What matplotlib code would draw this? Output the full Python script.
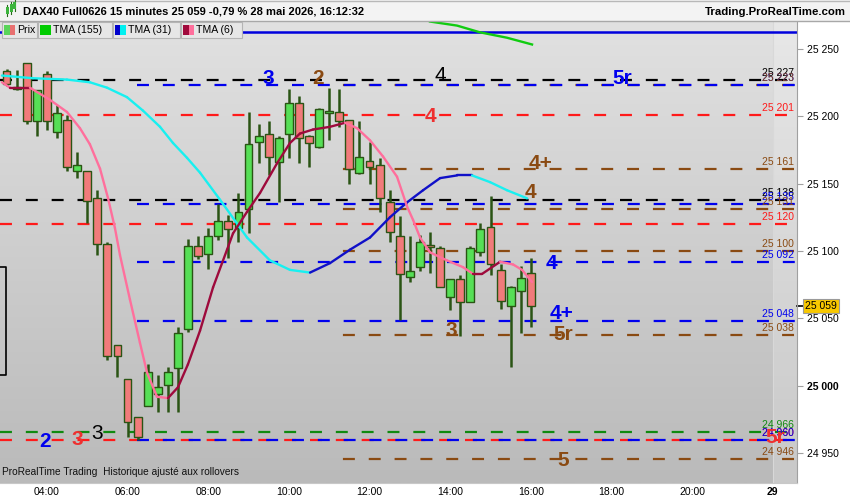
import numpy as np
import matplotlib.pyplot as plt
import matplotlib.transforms as mtransforms
from matplotlib.collections import LineCollection
from matplotlib.patches import Rectangle
from matplotlib.lines import Line2D

plt.rcParams['font.family'] = ['Liberation Sans', 'DejaVu Sans']
plt.rcParams['lines.scale_dashes'] = False

# 15 minute candles, bar 0 = 03:00, bar 52 = 16:00
opens = [25233, 25221, 25239, 25196, 25231, 25188, 25197, 25159, 25159, 25139,
         25105, 25030, 25005, 24977, 24985, 24994, 25001, 25013, 25042, 25104,
         25098, 25111, 25122, 25117, 25131, 25181, 25187, 25166, 25187, 25210,
         25185, 25177, 25202, 25203, 25197, 25158, 25167, 25164, 25136, 25111,
         25081, 25088, 25104, 25102, 25066, 25079, 25062, 25099, 25118, 25086,
         25059, 25070, 25084]
highs = [25235, 25234, 25239, 25219, 25233, 25208, 25201, 25173, 25159, 25145,
         25107, 25030, 25005, 24977, 25016, 25008, 25014, 25044, 25109, 25111,
         25117, 25135, 25127, 25143, 25203, 25194, 25196, 25185, 25220, 25215,
         25186, 25206, 25221, 25220, 25197, 25196, 25181, 25169, 25145, 25126,
         25111, 25112, 25114, 25104, 25079, 25082, 25104, 25121, 25141, 25090,
         25074, 25089, 25095]
lows = [25222, 25219, 25194, 25185, 25190, 25184, 25159, 25154, 25121, 25097,
        25019, 25007, 24962, 24960, 24985, 24981, 24981, 24981, 25040, 25094,
        25087, 25108, 25095, 25107, 25113, 25165, 25156, 25136, 25169, 25165,
        25162, 25176, 25182, 25192, 25150, 25157, 25150, 25129, 25107, 25049,
        25077, 25085, 25084, 25073, 25056, 25037, 25062, 25096, 25082, 25057,
        25014, 25039, 25044]
closes = [25224, 25220, 25196, 25219, 25196, 25202, 25162, 25164, 25137, 25105,
          25022, 25022, 24973, 24962, 25010, 24999, 25010, 25039, 25104, 25096,
          25111, 25122, 25116, 25129, 25179, 25185, 25170, 25184, 25210, 25184,
          25180, 25205, 25204, 25196, 25161, 25170, 25162, 25139, 25114, 25083,
          25085, 25107, 25103, 25073, 25079, 25062, 25102, 25116, 25090, 25063,
          25073, 25080, 25059]

# TMA curves (bar, price)
tma6_x = [-0.46, 0.34, 2.32, 4.3, 5.99, 7.28, 8.27, 9.27, 10.07, 10.75, 11.25,
          12.24, 13.23, 13.93, 14.92, 16.01, 17.0, 17.99, 19.19, 20.48, 21.87,
          22.46, 23.85, 25.14, 26.83, 28.11, 29.1, 30.4, 32.08, 33.57, 34.76,
          36.05, 37.34, 38.73, 39.72, 40.32, 41.01, 42.0, 43.69, 45.28, 46.27,
          47.16, 48.95, 50.24, 51.13, 52.12]
tma6_y = [25225, 25221, 25221, 25212, 25203, 25191, 25179, 25161, 25139, 25117,
          25097, 25064, 25032, 25010, 24992, 24991, 24999, 25016, 25041, 25073,
          25101, 25113, 25129, 25143, 25165, 25180, 25187, 25190, 25192, 25195,
          25191, 25182, 25170, 25155, 25133, 25123, 25110, 25099, 25093, 25088,
          25083, 25083, 25092, 25090, 25086, 25077]
tma31_x = [-0.46, 2.62, 5.99, 8.27, 9.96, 11.94, 13.53, 15.22, 16.51, 17.9,
           19.19, 21.17, 23.85, 26.13, 28.11, 30.1, 32.08, 34.07, 36.05, 38.03,
           39.72, 41.31, 43.0, 44.69, 46.17, 47.96, 49.64, 51.63]
tma31_y = [25230, 25228, 25227, 25225, 25221, 25214, 25204, 25192, 25180, 25169,
           25158, 25138, 25110, 25093, 25086, 25084, 25091, 25101, 25110, 25125,
           25136, 25145, 25154, 25156, 25156, 25151, 25145, 25139]
tma155_x = [42.0, 44.68, 46.96, 49.64, 52.12]
tma155_y = [25270, 25267, 25262, 25258, 25253]

# horizontal levels
black_levels = [25227, 25138]
red_levels = [25201, 25120, 24960]
green_levels = [24966]
blue_levels = [25223, 25135, 25092, 25048, 24960]
brown_levels = [25223, 25161, 25131, 25100, 25038, 24946]
blue_from = 12.9
brown_from = 32.1
top_line = 25262

# wave labels (text, bar, price)
black_marks = [('3', 8.97, 24965), ('4', 43.0, 25230)]
blue_marks = [('2', 3.81, 24959), ('3', 25.93, 25228), ('5r', 61.05, 25228),
              ('4', 54.0, 25091), ('4+', 55.0, 25054)]
red_marks = [('3', 6.98, 24960), ('4', 42.0, 25200), ('5r', 76.2, 24962)]
brown_marks = [('2', 30.9, 25228), ('4+', 53.0, 25165), ('4', 52.0, 25143),
               ('3', 44.1, 25041), ('5r', 55.2, 25038), ('5', 55.2, 24945)]

tick_bars = [4, 12, 20, 28, 36, 44, 52, 60, 68, 76]
tick_labels = ['04:00', '06:00', '08:00', '10:00', '12:00', '14:00', '16:00',
               '18:00', '20:00', '29']
price_ticks = [24950, 25000, 25050, 25100, 25150, 25200, 25250]

BROWN = '#8a4a12'
BLUE = '#0000ee'
RED = '#ff1a1a'
GREEN = '#108a10'
W, H = 850, 500


def fx(x):
    return x / W


def fy(y):
    return 1 - y / H


def fmt(v):
    return f"{v:,}".replace(',', ' ')


fig = plt.figure(figsize=(8.5, 5), dpi=100)
fig.patch.set_facecolor('white')
ax = fig.add_axes([0, 17 / H, 797 / W, 462 / H])
ax.set_xlim(-0.65, 78.4)
ax.set_ylim(24928.1, 25270.4)

# background gradient
grad = np.linspace(0, 1, 256)[:, None]
top_c = np.array([225, 225, 225]) / 255
bot_c = np.array([186, 186, 186]) / 255
img = top_c[None, None, :] * (1 - grad[:, :, None]) + bot_c[None, None, :] * grad[:, :, None]
ax.imshow(img, extent=[0, 1, 0, 1], transform=ax.transAxes, aspect='auto', zorder=0)
ax.axvspan(76, 78.4, color='white', alpha=0.22, lw=0, zorder=0.5)
ax.axvline(76, color='#d8d8d8', lw=0.8, zorder=0.5)

# levels
x0, x1 = -0.65, 78.4
dash = (0, (8.6, 10.0))
dash_half = (9.3, (8.6, 10.0))
for p in black_levels:
    ax.plot([x0, x1], [p, p], color='black', lw=1.6, ls=dash, zorder=2)
for p in red_levels:
    ax.plot([x0, x1], [p, p], color=RED, lw=1.6, ls=dash, zorder=2)
for p in green_levels:
    ax.plot([x0, x1], [p, p], color=GREEN, lw=1.6, ls=dash, zorder=2)
for p in blue_levels:
    ax.plot([blue_from, x1], [p, p], color=BLUE, lw=1.6, ls=dash, zorder=2.1)
for p in brown_levels:
    ax.plot([brown_from, x1], [p, p], color=BROWN, lw=1.6, ls=dash_half, zorder=2)
ax.axhline(top_line, color='#0000dd', lw=1.8, zorder=2)

# level price labels on the right
bt = mtransforms.blended_transform_factory(ax.transAxes, ax.transData)
for levels, c in [(black_levels, 'black'), (red_levels, RED), (green_levels, GREEN),
                  (blue_levels, BLUE), (brown_levels, BROWN)]:
    for p in levels:
        ax.text(0.996, p + 1.5, fmt(p), color=c, fontsize=7.5, ha='right',
                va='bottom', transform=bt, zorder=6)

# candles
idx = np.arange(len(closes))
o = np.array(opens)
c = np.array(closes)
up = c >= o
ax.vlines(idx, lows, highs, color='#2a5414', lw=1.8, zorder=3)
body_lo = np.minimum(o, c)
body_h = np.maximum(np.abs(c - o), 1.2)
ax.bar(idx[up], body_h[up], bottom=body_lo[up], width=0.78, color='#56df56',
       edgecolor='#2a5414', lw=1.0, zorder=4)
ax.bar(idx[~up], body_h[~up], bottom=body_lo[~up], width=0.78, color='#f17b7b',
       edgecolor='#2a5414', lw=1.0, zorder=4)


def slope_line(xs, ys, rise_c, fall_c, lw):
    pts = np.column_stack([xs, ys])
    segs = np.stack([pts[:-1], pts[1:]], axis=1)
    cols = [rise_c if ys[i + 1] >= ys[i] else fall_c for i in range(len(ys) - 1)]
    ax.add_collection(LineCollection(segs, colors=cols, lw=lw, zorder=5,
                                     capstyle='round', joinstyle='round'))


slope_line(tma31_x, tma31_y, '#1010c8', '#18f0f0', 1.7)
slope_line(tma6_x, tma6_y, '#9e0a3c', '#ff6f9c', 1.7)
ax.plot(tma155_x, tma155_y, color='#10cc10', lw=1.7, zorder=5)

# wave labels
for marks, col, wt in [(black_marks, 'black', 'normal'), (blue_marks, BLUE, 'bold'),
                       (red_marks, '#ee3030', 'bold'), (brown_marks, BROWN, 'bold')]:
    for t, bx, py in marks:
        ax.text(bx, py, t, color=col, fontsize=15, fontweight=wt, ha='center',
                va='center', zorder=7)

# axes
for s in ['top', 'left']:
    ax.spines[s].set_visible(False)
ax.spines['right'].set_color('#a0a0a0')
ax.spines['bottom'].set_color('#c8c8c8')
ax.yaxis.tick_right()
ax.set_yticks(price_ticks)
ax.set_yticklabels([fmt(p) for p in price_ticks])
for lab, p in zip(ax.get_yticklabels(), price_ticks):
    if p == 25000:
        lab.set_fontweight('bold')
ax.tick_params(axis='y', direction='out', length=4, color='#a0a0a0', labelsize=7.5,
               pad=3)
ax.set_xticks(tick_bars)
ax.set_xticklabels(tick_labels)
ax.get_xticklabels()[-1].set_fontweight('bold')
ax.tick_params(axis='x', direction='out', length=0, labelsize=7.5, pad=3)

# last price box
ax.text(1.0 + 8 / 797, closes[-1], fmt(closes[-1]), transform=bt, fontsize=7.5,
        ha='left', va='center', clip_on=False, zorder=8,
        bbox=dict(boxstyle='square,pad=0.2', fc='#f8c800', ec='#9a9a9a', lw=0.8))
ax.add_line(Line2D([1.0, 1.007], [closes[-1], closes[-1]], transform=bt,
                   color='black', lw=1.2, clip_on=False))

ax.text(0.003, 0.013, 'ProRealTime Trading  Historique ajusté aux rollovers',
        transform=ax.transAxes, fontsize=7.3, color='#111111', ha='left',
        va='bottom', zorder=8)

# header
fig.add_artist(Rectangle((0, fy(21)), 1, 21 / H, transform=fig.transFigure,
                         fc='#f3f3f3', ec='none', zorder=1))
fig.add_artist(Line2D([0, 1], [fy(21), fy(21)], transform=fig.transFigure,
                      color='#a8a8a8', lw=1.0, zorder=2))
fig.add_artist(Line2D([0, 1], [fy(0.5), fy(0.5)], transform=fig.transFigure,
                      color='#b8b8b8', lw=1.0, zorder=2))
fig.text(fx(23), fy(11), 'DAX40 Full0626 15 minutes 25 059 -0,79 % 28 mai 2026, 16:12:32',
         fontsize=8, fontweight='bold', ha='left', va='center', zorder=3)
fig.text(fx(846), fy(12), 'Trading.ProRealTime.com', fontsize=8.2,
         fontweight='bold', ha='right', va='center', zorder=3)
# tiny candle icon
for xx, y0, y1 in [(7, 7, 14), (11, 4, 12), (15, 2, 9)]:
    fig.add_artist(Line2D([fx(xx), fx(xx)], [fy(y0 - 2), fy(y1 + 2)],
                          transform=fig.transFigure, color='#2a6a1a', lw=0.8, zorder=3))
    fig.add_artist(Rectangle((fx(xx - 1.5), fy(y1)), 3 / W, (y1 - y0) / H,
                             transform=fig.transFigure, fc='#3cb43c', ec='none', zorder=4))

# legend row
legend = [('Prix', 2, 37, ['#5ad45a', '#e87070']),
          ('TMA (155)', 38, 112, ['#00cc00']),
          ('TMA (31)', 113, 180, ['#0000cc', '#00f0f0']),
          ('TMA (6)', 181, 242, ['#a00a3c', '#ff6f9c'])]
for name, bx0, bx1, cols in legend:
    fig.add_artist(Rectangle((fx(bx0), fy(38)), (bx1 - bx0) / W, 16 / H,
                             transform=fig.transFigure, fc='#e6e6e6', ec='#b4b4b4',
                             lw=0.8, zorder=3))
    sw = 11 / len(cols)
    for k, cc in enumerate(cols):
        fig.add_artist(Rectangle((fx(bx0 + 2 + k * sw), fy(35)), sw / W, 10 / H,
                                 transform=fig.transFigure, fc=cc, ec='none', zorder=4))
    fig.text(fx(bx0 + 15), fy(30), name, fontsize=7.6, ha='left', va='center', zorder=4)

# scroll bracket at left
fig.add_artist(Line2D([0, fx(6), fx(6), 0], [fy(267), fy(267), fy(375), fy(375)],
                      transform=fig.transFigure, color='black', lw=1.2, zorder=3))

fig.savefig('out.png', dpi=100)
